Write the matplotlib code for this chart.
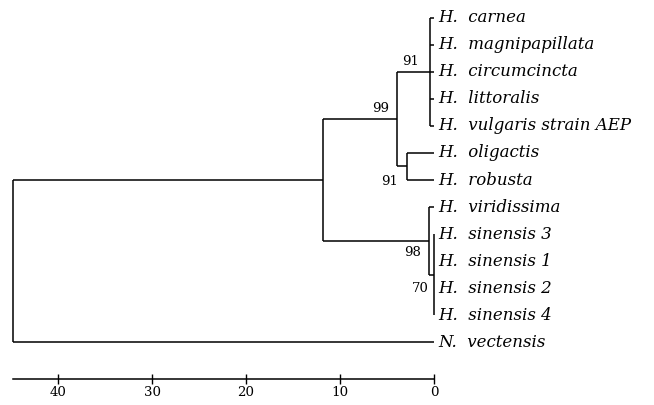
import matplotlib
matplotlib.use("Agg")
import matplotlib.pyplot as plt

# ---- data ----
taxa = ["H.  carnea", "H.  magnipapillata", "H.  circumcincta", "H.  littoralis",
        "H.  vulgaris strain AEP", "H.  oligactis", "H.  robusta", "H.  viridissima",
        "H.  sinensis 3", "H.  sinensis 1", "H.  sinensis 2", "H.  sinensis 4",
        "N.  vectensis"]
tip_heights = [0.0] * 13
# internal nodes
node_names = ["vulg", "olig", "brown", "sin", "green", "hydra", "root"]
node_heights = [0.4, 2.9, 3.9, 0.02, 0.5, 11.8, 44.8]
node_children = [
    [0, 1, 2, 3, 4],
    [5, 6],
    ["vulg", "olig"],
    [8, 9, 10, 11],
    [7, "sin"],
    ["brown", "green"],
    ["hydra", 12],
]
node_support = [91, 91, 99, 70, 98, None, None]
support_offsets = [(-20, 10), (-17, -15), (-17, 11), (-13, -14), (-17, -12), None, None]
scale_ticks = [40, 30, 20, 10, 0]

fig = plt.figure(figsize=(6.54, 4.05), dpi=100)
ax = fig.add_axes([13 / 654, 26 / 405, 421 / 654, 369 / 405])
ax.set_xlim(44.8, 0)
ax.set_ylim(13.37, -0.296)

pos = {}
for i in range(len(taxa)):
    pos[i] = (tip_heights[i], float(i))

lw = 1.1
for name, h, ch in zip(node_names, node_heights, node_children):
    ys = [pos[c][1] for c in ch]
    y = (min(ys) + max(ys)) / 2
    pos[name] = (h, y)
    ax.plot([h, h], [min(ys), max(ys)], color="black", lw=lw,
            solid_capstyle="butt", clip_on=False)
    for c in ch:
        cx, cy = pos[c]
        ax.plot([h, cx], [cy, cy], color="black", lw=lw,
                solid_capstyle="butt", clip_on=False)

for name, sup, off in zip(node_names, node_support, support_offsets):
    if sup is None:
        continue
    x, y = pos[name]
    ax.annotate(str(sup), (x, y), xytext=off, textcoords="offset pixels",
                ha="center", va="center", fontsize=9.5, family="DejaVu Serif",
                annotation_clip=False)

for i, t in enumerate(taxa):
    ax.text(-0.45, i, t, ha="left", va="center", fontsize=12, style="italic",
            family="DejaVu Serif", clip_on=False)

for s in ["top", "right", "left"]:
    ax.spines[s].set_visible(False)
ax.spines["bottom"].set_linewidth(1.1)
ax.set_yticks([])
ax.set_xticks(scale_ticks)
ax.set_xticklabels([str(t) for t in scale_ticks], family="DejaVu Serif", fontsize=9.6)
ax.tick_params(axis="x", direction="inout", length=6.5, width=1.0, pad=2)

fig.savefig("out.png", dpi=100)
